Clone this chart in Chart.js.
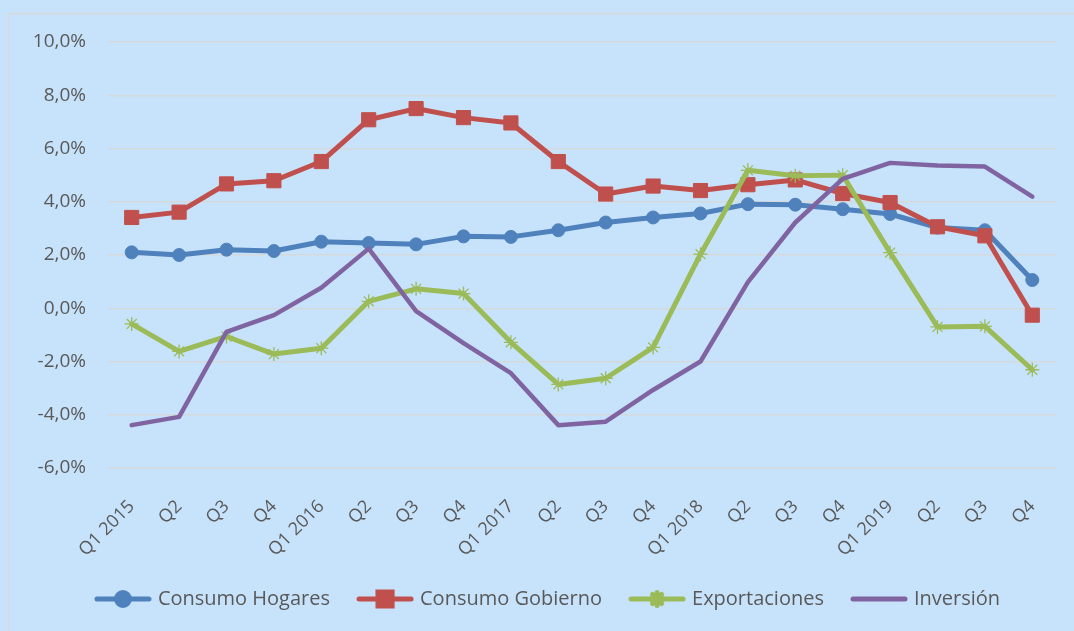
<!DOCTYPE html>
<html>
<head>
<meta charset="utf-8">
<script src="https://cdn.jsdelivr.net/npm/chart.js@4/dist/chart.umd.min.js"></script>
<style>
    html, body { margin: 0; padding: 0; background: #C7E3FB; }
    #wrap { width: 1074px; height: 631px; position: relative; }
</style>
</head>
<body>
<div id="wrap"><canvas id="chart"></canvas></div>
<script>
const quarters = ['Q1 2015', 'Q2', 'Q3', 'Q4', 'Q1 2016', 'Q2', 'Q3', 'Q4', 'Q1 2017', 'Q2',
    'Q3', 'Q4', 'Q1 2018', 'Q2', 'Q3', 'Q4', 'Q1 2019', 'Q2', 'Q3', 'Q4'];

const consumoHogares = [2.1, 2.0, 2.2, 2.15, 2.5, 2.45, 2.4, 2.7, 2.68, 2.93,
    3.22, 3.41, 3.56, 3.91, 3.89, 3.72, 3.54, 3.03, 2.93, 1.06];
const consumoGobierno = [3.41, 3.61, 4.67, 4.79, 5.51, 7.08, 7.5, 7.16, 6.96, 5.51,
    4.29, 4.59, 4.42, 4.64, 4.82, 4.31, 3.97, 3.06, 2.72, -0.26];
const exportaciones = [-0.59, -1.62, -1.06, -1.72, -1.5, 0.26, 0.73, 0.55, -1.28, -2.86,
    -2.63, -1.47, 2.03, 5.18, 4.98, 5.0, 2.09, -0.7, -0.68, -2.31];
const inversion = [-4.39, -4.08, -0.89, -0.26, 0.77, 2.24, -0.11, -1.31, -2.44, -4.39,
    -4.26, -3.07, -2.0, 0.98, 3.22, 4.86, 5.46, 5.36, 5.32, 4.19];

const yTickLabels = ['-6,0%', '-4,0%', '-2,0%', '0,0%', '2,0%', '4,0%', '6,0%', '8,0%', '10,0%'];

const textColor = '#595959';
const gridColor = '#D6D9DC';

// small canvas with a line and the marker, used as legend symbol
function legendSymbol(color, style, radius) {
    const c = document.createElement('canvas');
    c.width = 58;
    c.height = 22;
    const ctx = c.getContext('2d');
    ctx.strokeStyle = color;
    ctx.lineWidth = 5;
    ctx.lineCap = 'round';
    ctx.beginPath();
    ctx.moveTo(3, 11);
    ctx.lineTo(55, 11);
    ctx.stroke();
    if (style) {
        Chart.helpers.drawPoint(ctx, {
            pointStyle: style, radius: radius, borderWidth: 1
        }, 29, 11);
        ctx.fillStyle = color;
        ctx.lineWidth = style === 'star' ? 1.2 : 1;
        if (style !== 'star') ctx.fill();
        ctx.stroke();
    }
    return c;
}

const borderPlugin = {
    id: 'outerBorder',
    afterLayout(chart) {
        // legend sits a bit right of the plot centre in the original
        chart.legend.left += 17;
        chart.legend.right += 17;
    },
    beforeDraw(chart) {
        const ctx = chart.ctx;
        ctx.save();
        ctx.strokeStyle = '#D9D9D9';
        ctx.lineWidth = 1.5;
        ctx.strokeRect(8.5, 13.5, chart.width + 20, chart.height + 20);
        ctx.restore();
    }
};

const symbols = [
    legendSymbol('#4F81BD', 'circle', 6.5),
    legendSymbol('#C0504D', 'rect', 10),
    legendSymbol('#9BBB59', 'star', 6.5),
    legendSymbol('#8064A2', null, 0)
];

new Chart(document.getElementById('chart'), {
    type: 'line',
    data: {
        labels: quarters,
        datasets: [{
            label: 'Consumo Hogares',
            data: consumoHogares,
            borderColor: '#4F81BD',
            backgroundColor: '#4F81BD',
            borderWidth: 5,
            pointStyle: 'circle',
            pointRadius: 6.5,
            pointBorderWidth: 1,
            order: 3
        }, {
            label: 'Consumo Gobierno',
            data: consumoGobierno,
            borderColor: '#C0504D',
            backgroundColor: '#C0504D',
            borderWidth: 5,
            pointStyle: 'rect',
            pointRadius: 10,
            pointBorderWidth: 1,
            order: 2
        }, {
            label: 'Exportaciones',
            data: exportaciones,
            borderColor: '#9BBB59',
            backgroundColor: '#9BBB59',
            borderWidth: 5,
            pointStyle: 'star',
            pointRadius: 7,
            pointBorderWidth: 1.3,
            order: 1
        }, {
            label: 'Inversión',
            data: inversion,
            borderColor: '#8064A2',
            backgroundColor: '#8064A2',
            borderWidth: 4.5,
            pointRadius: 0,
            order: 0
        }]
    },
    options: {
        responsive: true,
        maintainAspectRatio: false,
        animation: false,
        layout: {
            padding: { left: 8, right: 18, top: 42, bottom: 12 }
        },
        elements: {
            line: { tension: 0, borderCapStyle: 'round', borderJoinStyle: 'round' }
        },
        scales: {
            x: {
                offset: true,
                grid: { display: false },
                border: { display: false },
                ticks: {
                    color: textColor,
                    font: { family: 'Open Sans', size: 18 },
                    minRotation: 45,
                    maxRotation: 45,
                    autoSkip: false,
                    padding: 20
                },
                afterFit(scale) { scale.height = 91; }
            },
            y: {
                min: -6,
                max: 10,
                grid: { color: gridColor, lineWidth: 1.5, drawTicks: false },
                border: { display: false },
                ticks: {
                    stepSize: 2,
                    color: textColor,
                    font: { family: 'Open Sans', size: 19 },
                    padding: 22,
                    callback: (value, index) => yTickLabels[index]
                },
                afterFit(scale) { scale.width = 100; }
            }
        },
        plugins: {
            tooltip: { enabled: false },
            legend: {
                position: 'bottom',
                labels: {
                    usePointStyle: true,
                    pointStyleWidth: 50,
                    boxHeight: 20,
                    padding: 30,
                    color: textColor,
                    font: { family: 'Open Sans', size: 20 },
                    sort: (a, b) => a.datasetIndex - b.datasetIndex,
                    generateLabels(chart) {
                        const items = Chart.defaults.plugins.legend.labels.generateLabels(chart);
                        items.forEach(item => { item.pointStyle = symbols[item.datasetIndex]; });
                        return items;
                    }
                }
            }
        }
    },
    plugins: [borderPlugin]
});
</script>
</body>
</html>
